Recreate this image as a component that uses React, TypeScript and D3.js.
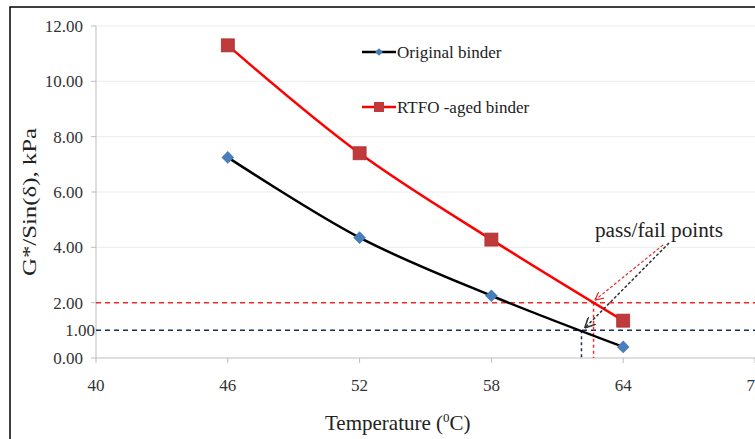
import React from 'react';
import * as d3 from 'd3';

// temperatures (°C) and G*/sin(δ) readings
const temps = [46, 52, 58, 64];
const originalBinder = [7.25, 4.35, 2.25, 0.4];
const rtfoBinder = [11.3, 7.4, 4.28, 1.35];

const xTicks = [40, 46, 52, 58, 64, 70];
const yTicks = [0, 2, 4, 6, 8, 10, 12];

// criteria lines and the temperatures where each curve crosses them
const originalLimit = 1.0;
const rtfoLimit = 2.0;
const originalPassFail = 62.1;
const rtfoPassFail = 62.65;

const W = 755;
const H = 439;
const FONT = '"Liberation Serif", "Times New Roman", serif';

export default function App() {
  const x = d3.scaleLinear().domain([40, 70]).range([96, 755]);
  const y = d3.scaleLinear().domain([0, 12]).range([358, 26]);

  const line = d3
    .line<number>()
    .x((_, i) => x(temps[i]))
    .y((d) => y(d))
    .curve(d3.curveCatmullRom.alpha(0.5));

  // Excel style diamond = square turned 45°
  const diamond = d3.symbol().type(d3.symbolSquare).size(80)();
  const square = 13;

  // arrow callout
  const arrowFrom: [number, number] = [669, 243];

  return (
    <svg
      width={W}
      height={H}
      style={{ position: 'absolute', left: 0, top: 0, background: '#fff' }}
      fontFamily={FONT}
    >
      <defs>
        <marker id="headBlack" viewBox="0 0 10 10" refX="9" refY="5" markerWidth="7" markerHeight="7" orient="auto">
          <path d="M0,0 L10,5 L0,10" fill="none" stroke="#333" strokeWidth={1.5} />
        </marker>
        <marker id="headRed" viewBox="0 0 10 10" refX="9" refY="5" markerWidth="7" markerHeight="7" orient="auto">
          <path d="M0,0 L10,5 L0,10" fill="none" stroke="#e03030" strokeWidth={1.5} />
        </marker>
      </defs>

      {/* frame */}
      <rect x={10} y={7} width={W} height={H} fill="none" stroke="#000" strokeWidth={1.5} />

      {/* gridlines */}
      {yTicks.filter((t) => t > 0).map((t) => (
        <line key={t} x1={x(40)} x2={x(70)} y1={y(t)} y2={y(t)} stroke="#ececec" strokeWidth={1} />
      ))}

      {/* axes */}
      <line x1={x(40)} x2={x(40)} y1={y(12)} y2={y(0)} stroke="#bdbdbd" />
      <line x1={x(40)} x2={x(70)} y1={y(0)} y2={y(0)} stroke="#bdbdbd" />
      {yTicks.map((t) => (
        <g key={t}>
          <line x1={x(40) - 5} x2={x(40)} y1={y(t)} y2={y(t)} stroke="#bdbdbd" />
          <text x={83} y={y(t)} dy="0.35em" textAnchor="end" fontSize={17} fill="#333">
            {d3.format('.2f')(t)}
          </text>
        </g>
      ))}
      <text x={95} y={y(originalLimit)} dy="0.35em" textAnchor="end" fontSize={17} fill="#333">
        {d3.format('.2f')(originalLimit)}
      </text>
      {xTicks.map((t) => (
        <g key={t}>
          <line x1={x(t)} x2={x(t)} y1={y(0)} y2={y(0) + 5} stroke="#bdbdbd" />
          <text x={x(t)} y={391} textAnchor="middle" fontSize={17} fill="#333">
            {t}
          </text>
        </g>
      ))}

      {/* axis titles */}
      <text
        transform={`translate(29,${202}) rotate(-90)`}
        textAnchor="middle"
        dy="0.35em"
        fontSize={19}
        textLength={148}
        lengthAdjust="spacingAndGlyphs"
        fill="#222"
      >
        G*/Sin(δ), kPa
      </text>
      <text x={325} y={430} fontSize={21} fill="#222">
        Temperature (<tspan dy={-8} fontSize={13}>0</tspan>
        <tspan dy={8}>C)</tspan>
      </text>

      {/* criteria lines */}
      <line x1={x(40)} x2={x(70)} y1={y(rtfoLimit)} y2={y(rtfoLimit)} stroke="#ee2c2c" strokeWidth={1.5} strokeDasharray="5,4" />
      <line x1={x(40)} x2={x(70)} y1={y(originalLimit)} y2={y(originalLimit)} stroke="#1f2f5a" strokeWidth={1.5} strokeDasharray="5,4" />
      <line x1={x(originalPassFail)} x2={x(originalPassFail)} y1={y(originalLimit)} y2={y(0)} stroke="#1f2f5a" strokeWidth={1.5} strokeDasharray="3,3" />
      <line x1={x(rtfoPassFail)} x2={x(rtfoPassFail)} y1={y(rtfoLimit)} y2={y(0)} stroke="#ee2c2c" strokeWidth={1.5} strokeDasharray="3,3" />

      {/* series */}
      <path d={line(rtfoBinder) ?? ''} fill="none" stroke="#ff0000" strokeWidth={2.5} />
      <path d={line(originalBinder) ?? ''} fill="none" stroke="#000" strokeWidth={2.5} />
      {rtfoBinder.map((v, i) => (
        <rect
          key={i}
          x={x(temps[i]) - square / 2}
          y={y(v) - square / 2}
          width={square}
          height={square}
          fill="#c0393b"
          stroke="#a83232"
          strokeWidth={0.8}
        />
      ))}
      {originalBinder.map((v, i) => (
        <path key={i} d={diamond ?? ''} transform={`translate(${x(temps[i])},${y(v)}) rotate(45)`} fill="#4a7ebb" />
      ))}

      {/* callout */}
      <text x={595} y={237} fontSize={20} textLength={128} lengthAdjust="spacingAndGlyphs" fill="#222">
        pass/fail points
      </text>
      <line
        x1={arrowFrom[0]}
        y1={arrowFrom[1]}
        x2={x(originalPassFail) + 4}
        y2={y(originalLimit) - 3}
        stroke="#333"
        strokeWidth={1.5}
        strokeDasharray="3,2"
        markerEnd="url(#headBlack)"
      />
      <line
        x1={arrowFrom[0] - 6}
        y1={arrowFrom[1] + 2}
        x2={x(rtfoPassFail) + 2}
        y2={y(rtfoLimit) - 3}
        stroke="#e03030"
        strokeWidth={1.2}
        strokeDasharray="3,2"
        markerEnd="url(#headRed)"
      />

      {/* legend */}
      <line x1={362} x2={396} y1={52} y2={52} stroke="#000" strokeWidth={2.5} />
      <path d={d3.symbol().type(d3.symbolSquare).size(30)() ?? ''} transform="translate(379,52) rotate(45)" fill="#4a7ebb" />
      <text x={397} y={52} dy="0.35em" fontSize={17} fill="#222">
        Original binder
      </text>
      <line x1={362} x2={396} y1={107} y2={107} stroke="#ff0000" strokeWidth={2.5} />
      <rect x={374} y={102} width={10} height={10} fill="#c0393b" />
      <text x={397} y={107} dy="0.35em" fontSize={17} fill="#222">
        RTFO -aged binder
      </text>
    </svg>
  );
}
